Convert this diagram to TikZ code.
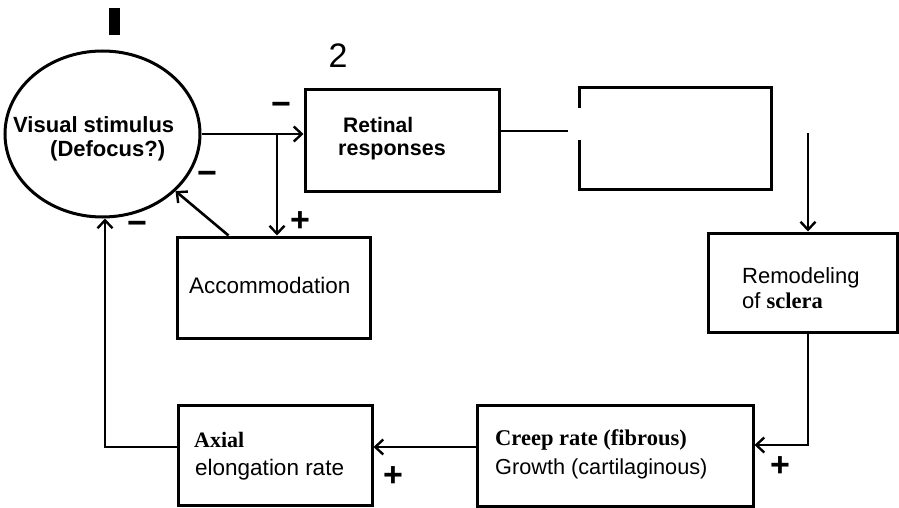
\documentclass[tikz,border=0pt]{standalone}
\usepackage{fontspec}
\setmainfont{Liberation Sans}
\newfontfamily\tnr{Liberation Serif}
\usetikzlibrary{arrows.meta,shapes.geometric,calc}
\begin{document}
\begin{tikzpicture}[x=1pt,y=-1pt,
  box/.style={draw, line width=3pt, rectangle, inner sep=0pt},
  conn/.style={line width=2.6pt},
  arr/.style={conn, -{Straight Barb[length=8pt,width=15pt,line width=2.4pt]}},
  lbl/.style={anchor=base west, inner sep=0pt, font=\fontsize{22.5}{25}\selectfont},
  lblb/.style={anchor=base west, inner sep=0pt, font=\bfseries\fontsize{22}{25}\selectfont},
  sign/.style={inner sep=0pt, font=\bfseries\fontsize{34}{36}\selectfont}]
\useasboundingbox (0,0) rectangle (899,508);

% marks
\node[fill, inner sep=0pt, minimum width=11, minimum height=27] (bar) at (114.5,21.5) {};
\node[inner sep=0pt, font=\fontsize{34}{36}\selectfont] (two) at (338,56) {2};

% shapes
\node[draw, ellipse, line width=3pt, inner sep=0pt, minimum width=195, minimum height=166] (vs) at (102.5,134) {};
\node[box, minimum width=194, minimum height=101] (ret) at (402,140.5) {};
\node[box, minimum width=193, minimum height=101] (acc) at (273.5,287.5) {};
\node[box, minimum width=194, minimum height=100] (ax) at (275,455) {};
\node[box, minimum width=276, minimum height=101] (cr) at (615,455.5) {};
\node[box, minimum width=189, minimum height=99] (rem) at (802.5,282.5) {};
\node[inner sep=0pt, minimum width=191, minimum height=101] (emp) at (675.5,138.5) {};
\draw[line width=3pt] ($(emp.north west)+(0,20)$) -- (emp.north west) -- (emp.north east)
   -- (emp.south east) -- (emp.south west) -- ($(emp.south west)+(0,-49)$);

% texts
\node[lblb] (t1) at (13,132) {Visual stimulus};
\node[lblb] (t2) at (50,157) {(Defocus?)};
\node[lblb, font=\bfseries\fontsize{21}{25}\selectfont] (t3) at (343,132) {Retinal};
\node[lblb, font=\bfseries\fontsize{21.5}{25}\selectfont] (t4) at (338,155) {responses};
\node[lbl] (t5) at (189,293) {Accommodation};
\node[lbl] (t6) at (194,447) {\tnr\bfseries\fontsize{22}{25}\selectfont Axial};
\node[lbl] (t7) at (195,475) {elongation rate};
\node[lbl] (t8) at (495,445) {\tnr\bfseries\fontsize{22.5}{25}\selectfont Creep rate (fibrous)};
\node[lbl] (t9) at (495,474) {\fontsize{21.7}{25}\selectfont Growth (cartilaginous)};
\node[lbl] (t10) at (742,283) {\fontsize{22}{25}\selectfont Remodeling};
\node[lbl] (t11) at (742,308) {\fontsize{22}{25}\selectfont of {\tnr\bfseries\fontsize{22.5}{25}\selectfont sclera}};

% connectors
\coordinate (br) at (277,133);
\draw[arr] (vs.east) -- (vs.east -| ret.west);
\draw[arr] (br |- vs.east) -- (br |- acc.north);
\draw[arr] ($(acc.north west)+(53,0)$) -- (vs.-38);
\coordinate (lc) at (105,447);
\draw[arr] (lc -| ax.west) -- (lc) -- (lc |- vs.south);
\coordinate (gapend) at (568,131);
\draw[conn] (gapend -| ret.east) -- (gapend);
\coordinate (rc) at (808,133);
\draw[arr] (rc) -- (rc |- rem.north);
\coordinate (rb) at (808,445);
\draw[arr] (rb |- rem.south) -- (rb) -- (rb -| cr.east);
\coordinate (mc) at (0,447);
\draw[arr] (mc -| cr.west) -- (mc -| ax.east);

% signs
\node[sign] (s1) at (281,109) {−};
\node[sign] (s2) at (207,178) {−};
\node[sign] (s3) at (300,222) {+};
\node[sign] (s4) at (137,228) {−};
\node[sign] (s5) at (393,477) {+};
\node[sign] (s6) at (780,467) {+};
\end{tikzpicture}
\end{document}
